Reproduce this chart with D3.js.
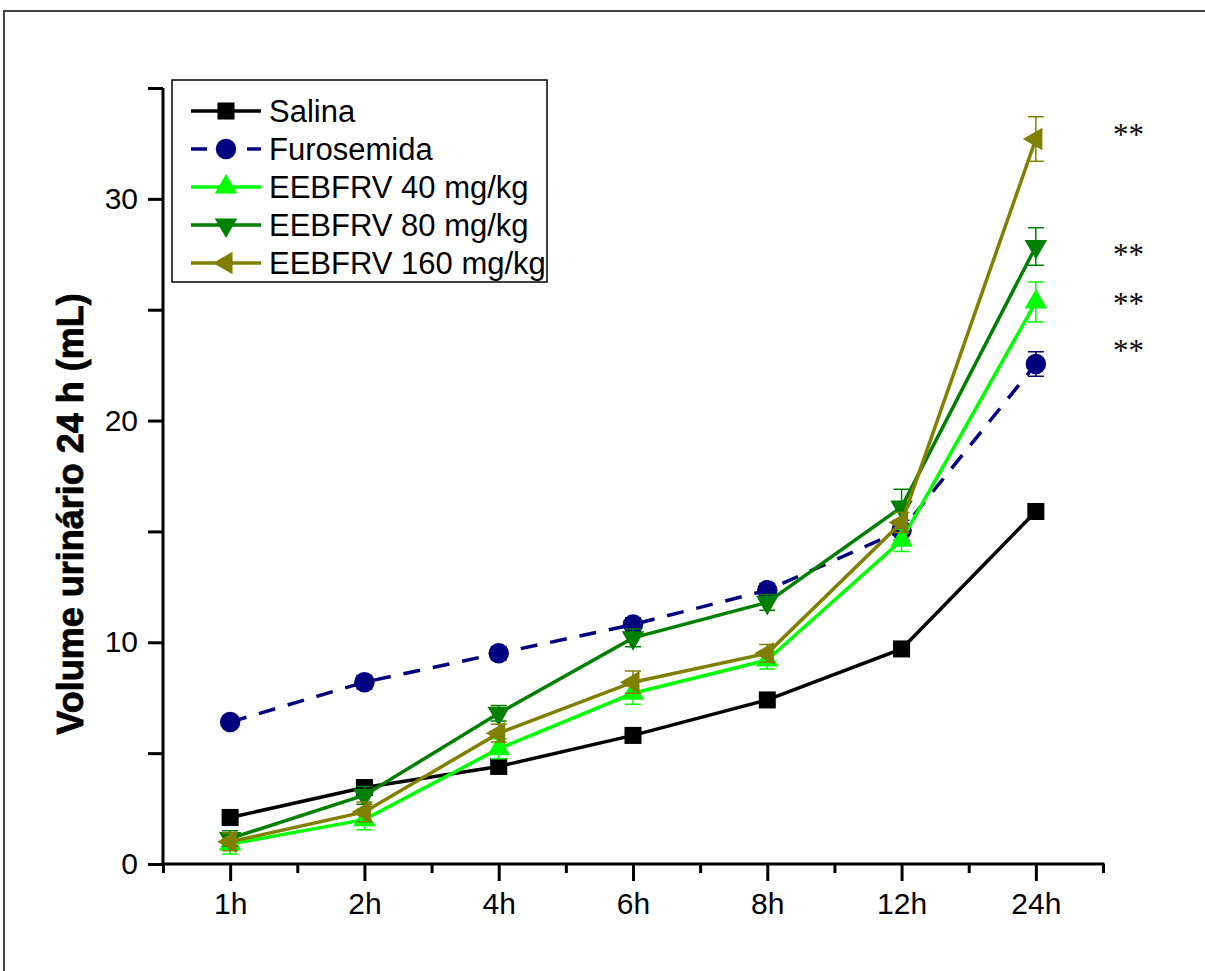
<!DOCTYPE html>
<html>
<head>
<meta charset="utf-8">
<script src="https://cdn.jsdelivr.net/npm/d3@7"></script>
<style>
  body { margin: 0; background: #fff; }
  svg { display: block; }
</style>
</head>
<body>
<svg id="chart"></svg>
<script>
// Urinary volume over 24 h — five groups, mean ± error per time point

const categories = ["1h", "2h", "4h", "6h", "8h", "12h", "24h"];
const seriesNames = ["Salina", "Furosemida", "EEBFRV 40 mg/kg", "EEBFRV 80 mg/kg", "EEBFRV 160 mg/kg"];

const salina      = [2.1, 3.45, 4.4, 5.8, 7.4, 9.7, 15.9];
const furosemida  = [6.4, 8.2, 9.5, 10.8, 12.35, 15.05, 22.55];
const eeb40       = [0.9, 2.0, 5.2, 7.7, 9.2, 14.6, 25.35];
const eeb80       = [1.15, 3.1, 6.8, 10.2, 11.8, 16.1, 27.85];
const eeb160      = [1.0, 2.35, 5.9, 8.2, 9.5, 15.4, 32.7];

const salinaErr     = [0.2, 0.2, 0.25, 0.2, 0.2, 0.3, 0.3];
const furosemidaErr = [0.2, 0.3, 0.3, 0.3, 0.3, 0.45, 0.55];
const eeb40Err      = [0.45, 0.45, 0.45, 0.5, 0.4, 0.5, 0.9];
const eeb80Err      = [0.35, 0.4, 0.35, 0.4, 0.35, 0.8, 0.85];
const eeb160Err     = [0.4, 0.45, 0.4, 0.5, 0.4, 0.45, 1.0];

const yTickValues = [0, 5, 10, 15, 20, 25, 30, 35];
const yTickLabels = [0, 10, 20, 30];

// "**" marks beside the 24h points (160, 80, 40, furosemida)
const signifValues = [33.05, 27.65, 25.45, 23.3];

(function () {
  const W = 1205, H = 971;
  const FONT = "'Liberation Sans', Arial, Helvetica, sans-serif";

  const COLORS = ["#000000", "#000080", "#00ff00", "#008000", "#808000"];
  const values = [salina, furosemida, eeb40, eeb80, eeb160];
  const errors = [salinaErr, furosemidaErr, eeb40Err, eeb80Err, eeb160Err];

  // marker shape per series: type, area, rotation
  const MARKERS = [
    { type: d3.symbolSquare,   size: 290, rot: 0 },
    { type: d3.symbolCircle,   size: 330, rot: 0 },
    { type: d3.symbolTriangle, size: 220, rot: 0 },
    { type: d3.symbolTriangle, size: 220, rot: 180 },
    { type: d3.symbolTriangle, size: 220, rot: -90 }
  ];
  const DASH = [null, "17,13", null, null, null];

  const svg = d3.select("#chart").attr("width", W).attr("height", H)
    .style("font-family", FONT);

  // outer frame (top + left edges visible)
  svg.append("path")
    .attr("d", `M4,${H + 5} V11 H${W + 5}`)
    .attr("fill", "none").attr("stroke", "#444").attr("stroke-width", 2);

  const x = d3.scaleLinear().domain([0.5, categories.length + 0.5]).range([163, 1103]);
  const y = d3.scaleLinear().domain([0, 35]).range([864, 88]);

  // ---- X axis ----
  const xg = svg.append("g").attr("transform", `translate(0,${y(0)})`);
  xg.append("g").call(
    d3.axisBottom(x).tickValues(d3.range(0.5, categories.length + 1, 1)).tickSize(9).tickFormat("")
  );
  xg.append("g").call(
    d3.axisBottom(x).tickValues(d3.range(1, categories.length + 1))
      .tickSize(17).tickPadding(12).tickFormat(i => categories[i - 1])
  );
  xg.selectAll(".domain").remove();
  xg.selectAll(".tick line").attr("stroke", "#000").attr("stroke-width", 3);
  xg.selectAll(".tick text").attr("font-size", 30).attr("font-family", FONT).attr("fill", "#000");
  xg.append("line")
    .attr("x1", x.range()[0] - 1.5).attr("x2", x.range()[1] + 1.5)
    .attr("stroke", "#000").attr("stroke-width", 3);

  // ---- Y axis ----
  const yg = svg.append("g").attr("transform", `translate(${x.range()[0]},0)`);
  yg.call(
    d3.axisLeft(y).tickValues(yTickValues).tickSize(15).tickPadding(10)
      .tickFormat(v => yTickLabels.includes(v) ? v : "")
  );
  yg.selectAll(".domain").remove();
  yg.selectAll(".tick line").attr("stroke", "#000").attr("stroke-width", 3);
  yg.selectAll(".tick text").attr("font-size", 30).attr("font-family", FONT).attr("fill", "#000");
  yg.append("line")
    .attr("y1", y.range()[1]).attr("y2", y.range()[0] + 1.5)
    .attr("stroke", "#000").attr("stroke-width", 3);

  // Y axis title
  svg.append("text")
    .attr("transform", `translate(83,${(y.range()[0] + y.range()[1]) / 2 + 38}) rotate(-90)`)
    .attr("text-anchor", "middle")
    .attr("font-size", 36).attr("font-weight", 700).attr("fill", "#000")
    .attr("stroke", "#000").attr("stroke-width", 0.8)
    .text("Volume urinário 24 h (mL)");

  // ---- Series ----
  const line = d3.line().x((d, i) => x(i + 1)).y(d => y(d));
  const symbol = m => d3.symbol().type(m.type).size(m.size)();

  values.forEach((vals, s) => {
    const g = svg.append("g");
    const color = COLORS[s];

    g.append("path")
      .attr("d", line(vals))
      .attr("fill", "none")
      .attr("stroke", color)
      .attr("stroke-width", 3.5)
      .attr("stroke-dasharray", DASH[s]);

    // error bars with caps
    vals.forEach((v, i) => {
      const cx = x(i + 1), e = errors[s][i];
      g.append("path")
        .attr("d", `M${cx},${y(v + e)} V${y(v - e)} M${cx - 8},${y(v + e)} H${cx + 8} M${cx - 8},${y(v - e)} H${cx + 8}`)
        .attr("fill", "none").attr("stroke", color).attr("stroke-width", 1.5);
    });

    vals.forEach((v, i) => {
      g.append("path")
        .attr("d", symbol(MARKERS[s]))
        .attr("transform", `translate(${x(i + 1)},${y(v)}) rotate(${MARKERS[s].rot})`)
        .attr("fill", color);
    });
  });

  // significance marks
  signifValues.forEach(v => {
    svg.append("text")
      .attr("x", 1113).attr("y", y(v) + 14)
      .attr("font-family", "'Liberation Serif', 'Times New Roman', serif")
      .attr("font-size", 31).attr("fill", "#000")
      .text("**");
  });

  // ---- Legend ----
  const legend = svg.append("g");
  legend.append("rect")
    .attr("x", 172).attr("y", 80).attr("width", 375).attr("height", 202)
    .attr("fill", "#fff").attr("stroke", "#000").attr("stroke-width", 1.5);

  seriesNames.forEach((name, s) => {
    const ly = 111 + s * 38;
    legend.append("line")
      .attr("x1", 191).attr("x2", 261).attr("y1", ly).attr("y2", ly)
      .attr("stroke", COLORS[s]).attr("stroke-width", 3.5)
      .attr("stroke-dasharray", DASH[s] ? "16,12" : null);
    legend.append("path")
      .attr("d", symbol(MARKERS[s]))
      .attr("transform", `translate(226,${ly}) rotate(${MARKERS[s].rot})`)
      .attr("fill", COLORS[s]);
    legend.append("text")
      .attr("x", 269).attr("y", ly).attr("dy", "0.36em")
      .attr("font-size", 31).attr("fill", "#000")
      .text(name);
  });
})();
</script>
</body>
</html>
